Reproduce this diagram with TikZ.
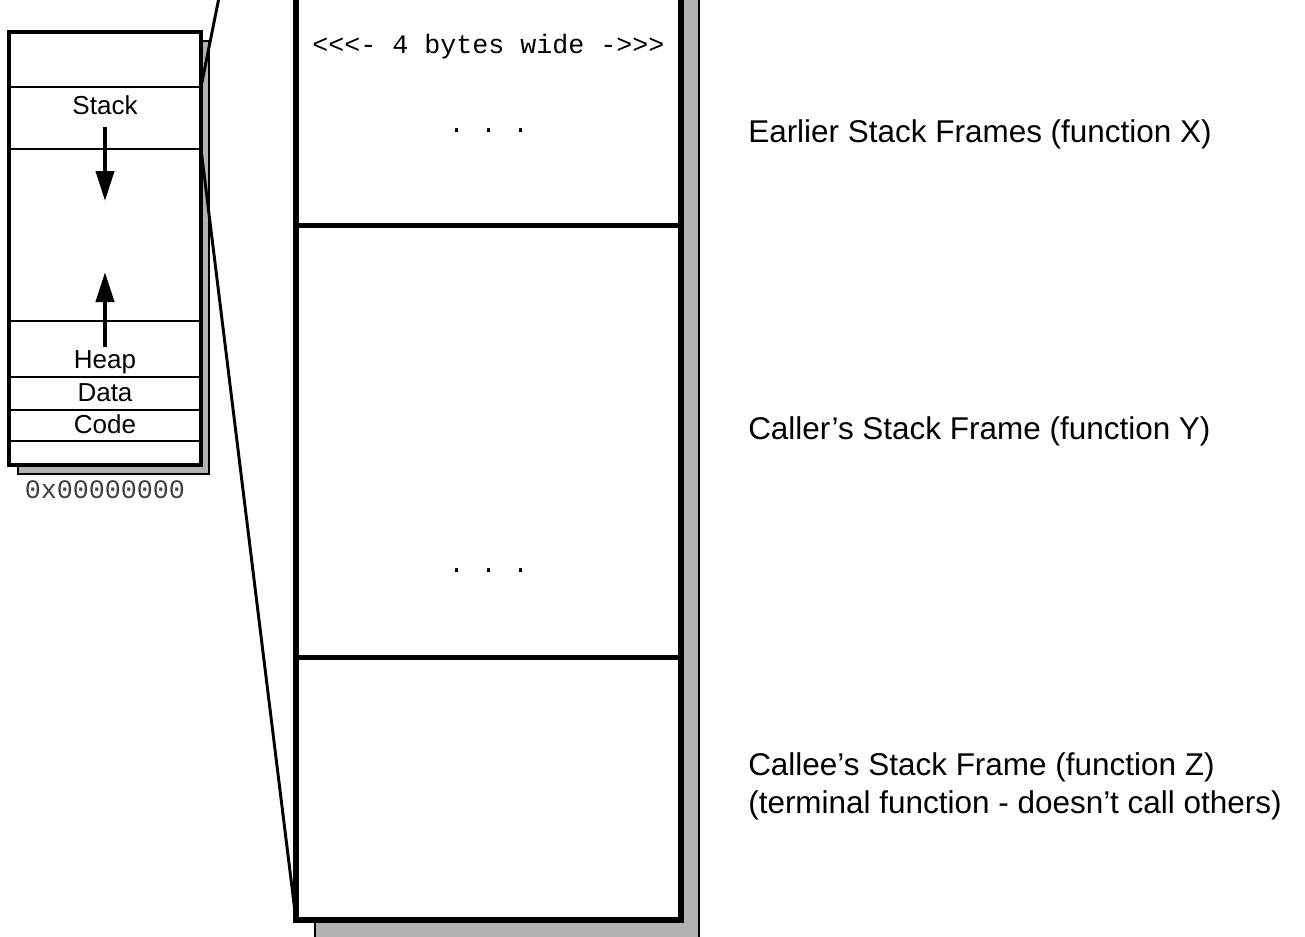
\documentclass[tikz,border=0pt]{standalone}
\usepackage{fontspec}
\setmainfont{Liberation Sans}
\newfontfamily\codefont{Liberation Mono}
\usetikzlibrary{arrows.meta}
\begin{document}
\begin{tikzpicture}[x=0.75pt,y=-0.75pt,
  shadowbox/.style={fill=black!30,draw=black,line width=1pt},
  membox/.style={fill=white,draw=black,line width=3pt},
  framebox/.style={fill=white,draw=black,line width=4.5pt},
  memdiv/.style={line width=1.5pt},
  framediv/.style={line width=3.75pt},
  zoomline/.style={line width=2.2pt},
  growarrow/.style={line width=3pt,-{Triangle[length=22.5pt,width=13.5pt]}},
  memlabel/.style={font=\fontsize{19.5}{22}\selectfont,inner sep=0pt,anchor=base},
  sidelabel/.style={font=\fontsize{23.6}{28.5}\selectfont,inner sep=0pt,anchor=base west},
  monolabel/.style={font=\codefont\fontsize{20}{22}\selectfont,inner sep=0pt,anchor=base}]
\useasboundingbox (0,0) rectangle (1305,936);
\clip (0,0) rectangle (1305,936);

% ---- process address space (small box) ----
\draw[shadowbox] (18,41) rectangle (209,474);
\draw[membox] (9,32) coordinate (memTL) rectangle (201,465) coordinate (memBR);
\coordinate (memStackTop) at (201,87);
\coordinate (memStackBot) at (201,149);
\foreach \yy in {87,149,321,377,410,441}
  \draw[memdiv] (9,\yy) -- (201,\yy);

\node[memlabel] (stack) at (105,114) {Stack};
\node[memlabel] (heap)  at (105,368) {Heap};
\node[memlabel] (data)  at (105,401) {Data};
\node[memlabel] (code)  at (105,433) {Code};
\node[monolabel,text=black!75] (addr0) at (105,498) {0x00000000};

\coordinate (stackGrowFrom) at (105,127);
\coordinate (stackGrowTo)   at (105,201);
\coordinate (heapGrowFrom)  at (105,347);
\coordinate (heapGrowTo)    at (105,272);
\draw[growarrow] (stackGrowFrom) -- (stackGrowTo);
\draw[growarrow] (heapGrowFrom) -- (heapGrowTo);

% ---- enlarged stack (big box) ----
\draw[shadowbox] (315,-366) rectangle (699,945);
\draw[framebox] (296,-385) coordinate (bigTL) rectangle (681,920) coordinate (bigBR);
\coordinate (bigBL) at (296,920);
\draw[framediv] (296,225) -- (681,225);
\draw[framediv] (296,657) -- (681,657);

\node[monolabel] (width) at (488.5,53) {<<<- 4 bytes wide ->>>};
\node[monolabel] (dotsX) at (488.5,132) {.\ .\ .};
\node[monolabel] (dotsY) at (488.5,572) {.\ .\ .};

% ---- frame descriptions ----
\node[sidelabel] (frameX) at (748,142) {Earlier Stack Frames (function X)};
\node[sidelabel] (frameY) at (748,439) {Caller’s Stack Frame (function Y)};
\node[sidelabel,align=left] (frameZ) at (748,813) {Callee’s Stack Frame (function Z)\\(terminal function - doesn’t call others)};

% ---- zoom lines from the stack region to the enlarged view ----
\draw[zoomline] (memStackTop) -- (bigTL);
\draw[zoomline] (memStackBot) -- (bigBL);
\end{tikzpicture}
\end{document}
